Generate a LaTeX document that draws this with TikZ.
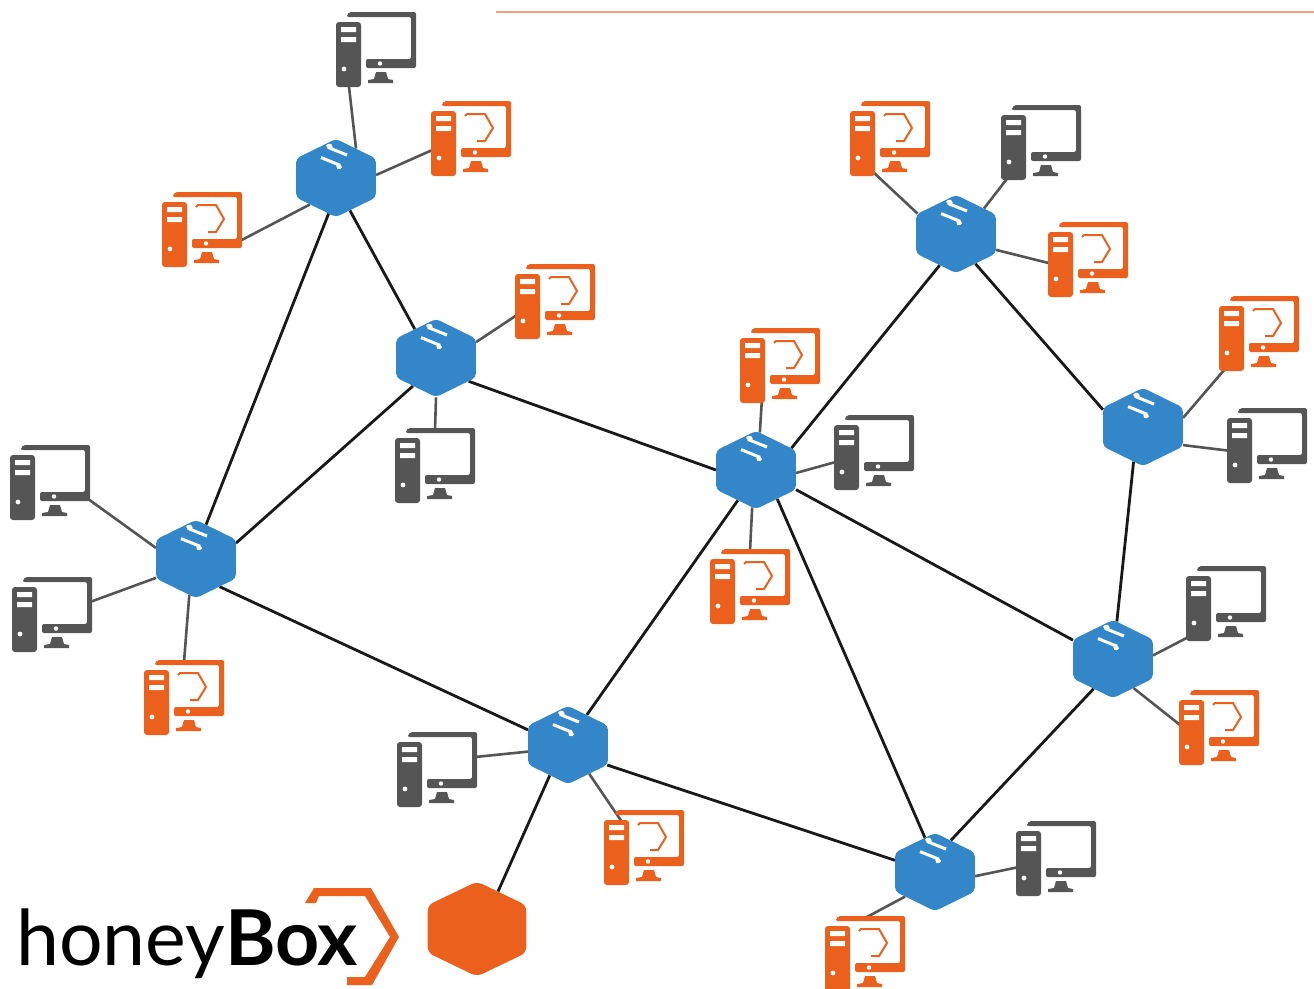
\documentclass[tikz,border=0pt]{standalone}
\usepackage{fontspec}
\setmainfont{Lato}
\usetikzlibrary{shapes.geometric,backgrounds}
\definecolor{pcgray}{HTML}{555555}
\definecolor{hporange}{HTML}{EA601C}
\definecolor{hubblue}{HTML}{3387C9}
\definecolor{rulecol}{HTML}{F0A27C}
\newcommand{\pcbody}[1]{
  \fill[#1,rounded corners=3pt] (0,10) rectangle (25,75);
  \fill[white] (5,15) rectangle (20,20) (5,25) rectangle (20,30);
  \fill[white] (8,57) circle (2.4);
  \fill[#1,rounded corners=2pt] (11,3) -- (13,0) -- (80,0) -- (80,56) -- (30,56) -- (30,47) -- (75,47) -- (75,5) -- (11,5) -- cycle;
  \fill[white] (44,51.5) circle (2.2);
  \fill[#1] (40,60) -- (50,60) -- (52,67) -- (57,68) -- (57,71) -- (32,71) -- (32,68) -- (38,67) -- cycle;
  \coordinate (-t) at (12.5,44);
  \coordinate (-b) at (12,66);
  \coordinate (-s) at (22,70);
  \coordinate (-a) at (18,12);
  \coordinate (-u) at (40,2);
  \coordinate (-r) at (74,51);
  \coordinate (-e) at (78,25);
}
\tikzset{
  pics/pc/.style={code={\pcbody{pcgray}}},
  pics/hpc/.style={code={
    \pcbody{hporange}
    \draw[hporange,line width=2pt] (34,15) -- (36,13) -- (54,13) -- (62,27) -- (54,40) -- (46,40);
  }},
  hexshape/.style={regular polygon,regular polygon sides=6,shape border rotate=30,inner sep=0pt,draw=none,transform shape},
  hub/.style={hexshape,minimum size=92pt,yscale=.85,rounded corners=4pt,fill=hubblue,
    path picture={
      \begin{scope}[shift={(path picture bounding box.center)}]
        \draw[white,line width=3pt] (-8,-36) -- (11,-27);
        \fill[white] (-12,-38) -- (-4,-42) -- (-3,-32) -- cycle;
        \draw[white,line width=3pt] (-15,-24) -- (4,-15);
        \fill[white] (8,-12) -- (0,-9) -- (1,-19) -- cycle;
      \end{scope}
    }},
  honey/.style={hexshape,minimum size=114pt,yscale=.833,rounded corners=6pt,fill=hporange},
  blink/.style={line width=2.8pt,draw=black!90},
  glink/.style={line width=2.6pt,draw=pcgray},
}
\begin{document}
\begin{tikzpicture}[x=1pt,y=-1pt]
\useasboundingbox (0,0) rectangle (1314,988);
\coordinate (rulea) at (496,12);
\coordinate (ruleb) at (1314,12);
\draw[rulecol,line width=1.2pt] (rulea) -- (ruleb);

\node[hub] (h1) at (336,178) {};
\node[hub] (h2) at (436,358) {};
\node[hub] (h3) at (956,234) {};
\node[hub] (h4) at (756,470) {};
\node[hub] (h5) at (1143,427) {};
\node[hub] (h6) at (196,559) {};
\node[hub] (h7) at (1113,659) {};
\node[hub] (h8) at (568,745) {};
\node[hub] (h9) at (935,872) {};
\node[honey] (hb) at (477,929) {};

\pic (g1) at (336,12) {pc};
\pic (g2) at (1001,105) {pc};
\pic (g3) at (395,428) {pc};
\pic (g4) at (10,445) {pc};
\pic (g5) at (12,577) {pc};
\pic (g6) at (834,415) {pc};
\pic (g7) at (1227,408) {pc};
\pic (g8) at (1186,566) {pc};
\pic (g9) at (397,732) {pc};
\pic (g10) at (1016,821) {pc};

\pic (o1) at (431,101) {hpc};
\pic (o2) at (162,192) {hpc};
\pic (o3) at (515,264) {hpc};
\pic (o4) at (850,101) {hpc};
\pic (o5) at (1048,222) {hpc};
\pic (o6) at (740,328) {hpc};
\pic (o7) at (1219,296) {hpc};
\pic (o8) at (710,549) {hpc};
\pic (o9) at (144,660) {hpc};
\pic (o10) at (1179,690) {hpc};
\pic (o11) at (604,810) {hpc};
\pic (o12) at (825,916) {hpc};

\begin{scope}[on background layer]
\draw[blink] (h1.260) -- (h6.76);
\draw[blink] (h1.290) -- (h2.122);
\draw[blink] (h2.235) -- (h6.25);
\draw[blink] (h2.320) -- (h4.180);
\draw[blink] (h4.36) -- (h3.246);
\draw[blink] (h3.299) -- (h5.153);
\draw[blink] (h5.257) -- (h7.85);
\draw[blink] (h4.330) -- (h7.151);
\draw[blink] (h4.243) -- (h8.62);
\draw[blink] (h4.302) -- (h9.104);
\draw[blink] (h6.306) -- (h8.156);
\draw[blink] (h8.329) -- (h9.161);
\draw[blink] (h7.241) -- (h9.67);
\draw[blink] (h8.243) -- (hb.65);

\draw[glink] (g1-b) -- (h1.60);
\draw[glink] (o1-t) -- (h1.5);
\draw[glink] (o2-r) -- (h1.230);
\draw[glink] (o3-t) -- (h2.25);
\draw[glink] (g3-u) -- (h2.270);
\draw[glink] (g4-r) -- (h6.162);
\draw[glink] (g5-e) -- (h6.209);
\draw[glink] (o9-u) -- (h6.261);
\draw[glink] (o4-s) -- (h3.148);
\draw[glink] (g2-b) -- (h3.47);
\draw[glink] (o5-t) -- (h3.335);
\draw[glink] (o6-s) -- (h4.85);
\draw[glink] (g6-t) -- (h4.355);
\draw[glink] (o8-u) -- (h4.265);
\draw[glink] (o7-b) -- (h5.15);
\draw[glink] (g7-t) -- (h5.332);
\draw[glink] (g8-b) -- (h7.6);
\draw[glink] (o10-t) -- (h7.301);
\draw[glink] (g9-e) -- (h8.191);
\draw[glink] (o11-a) -- (h8.302);
\draw[glink] (g10-t) -- (h9.353);
\draw[glink] (o12-u) -- (h9.224);
\end{scope}

\node[anchor=base west,inner sep=0pt,font=\fontsize{77}{77}\selectfont] (logo) at (16,965) {honey\textbf{Box}};
\fill[hporange] (305,903) -- (314,888) -- (371,888) -- (399,937) -- (372,985) -- (347,985) -- (347,977) -- (365,977) -- (390,937) -- (365,896) -- (319,896) -- (316,903) -- cycle;
\end{tikzpicture}
\end{document}
